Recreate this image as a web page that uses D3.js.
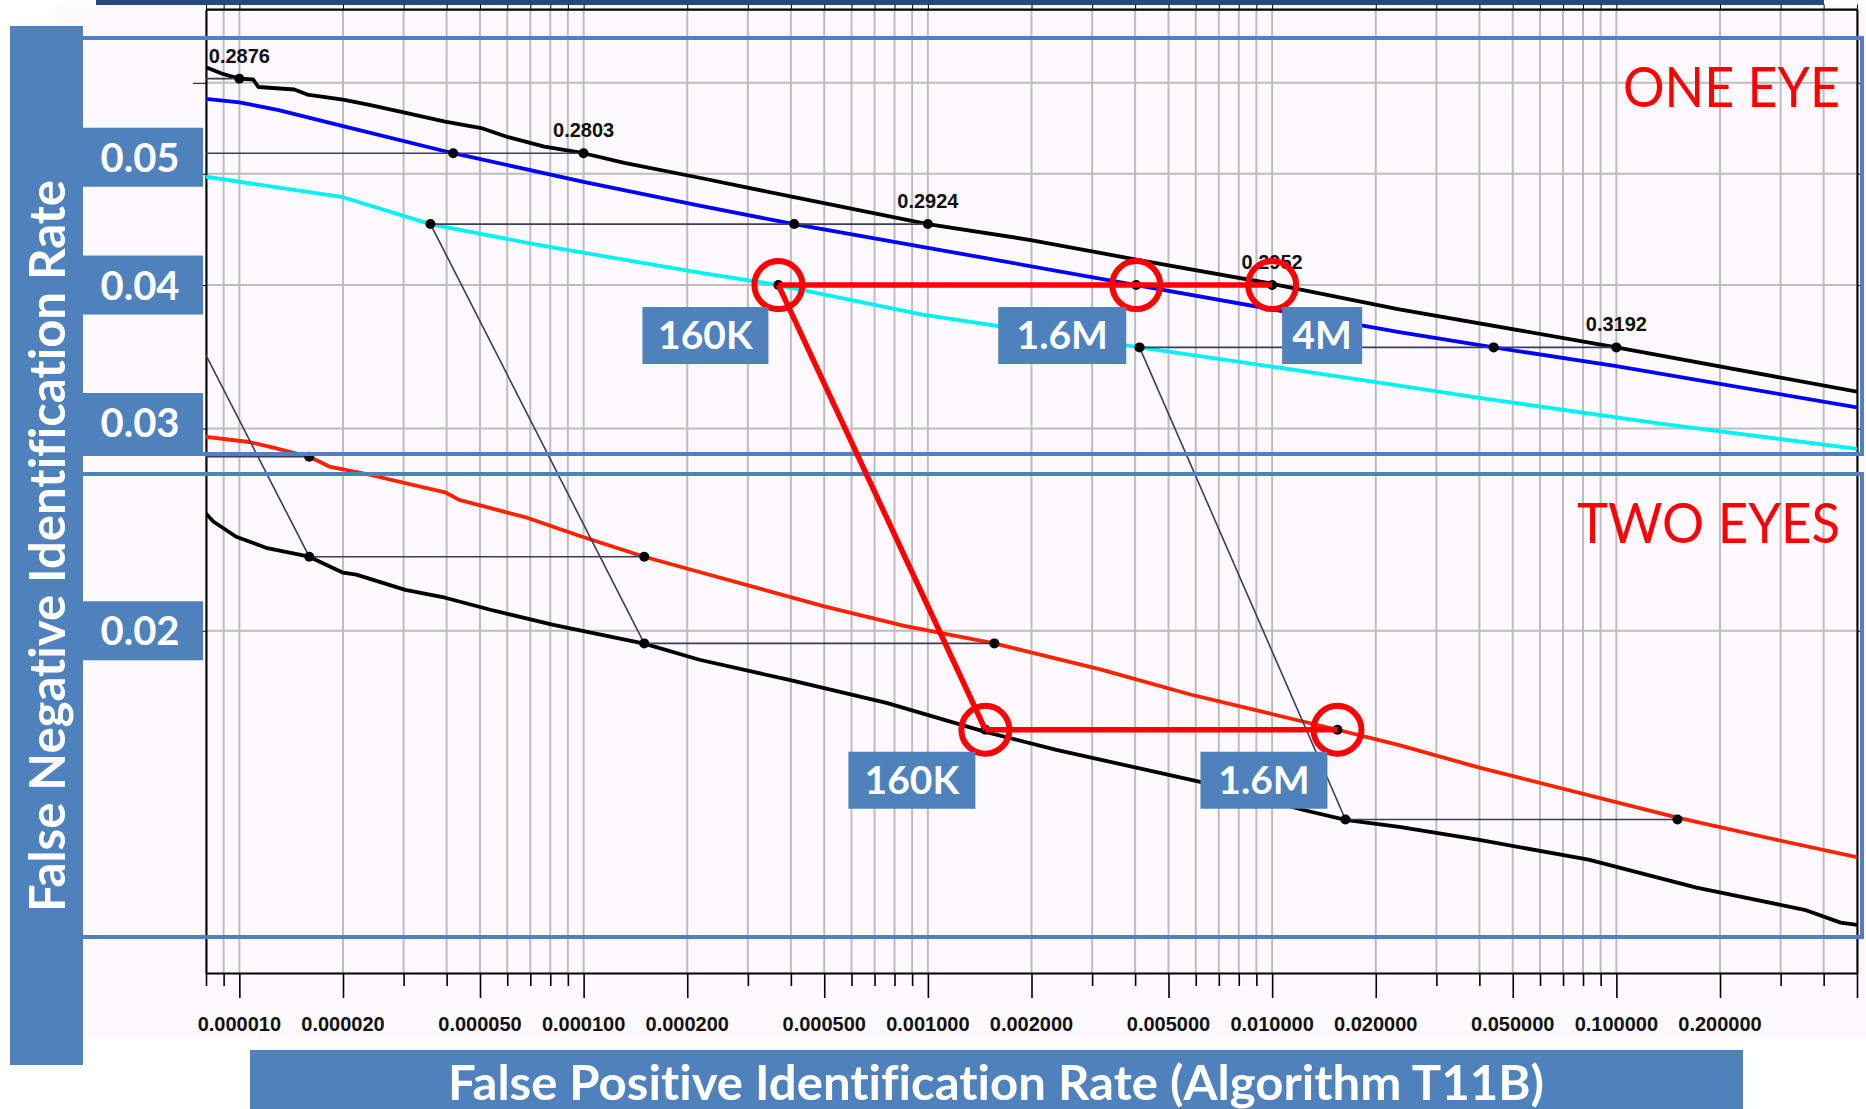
<!DOCTYPE html>
<html>
<head>
<meta charset="utf-8">
<script src="https://cdn.jsdelivr.net/npm/d3@7"></script>
<style>
  body { margin: 0; background: #fff; }
  svg { display: block; }
  text { font-variant-ligatures: none; }
</style>
</head>
<body>
<svg width="1866" height="1109"></svg>
<script>
// ---- values ----
var xDomain = [8e-6, 0.5];          // FPIR (log)
var yDomain = [0.01007, 0.0695];    // FNIR (log)

var xTickLabels = [0.00001, 0.00002, 0.00005, 0.0001, 0.0002, 0.0005, 0.001, 0.002, 0.005, 0.01, 0.02, 0.05, 0.1, 0.2];
var yGrid = [0.02, 0.03, 0.04, 0.05, 0.06];
var yTickLabels = [0.05, 0.04, 0.03, 0.02];

// one eye, black
var oneBlackX = [8e-6, 8.92e-6, 1e-5, 1.097e-5, 1.135e-5, 1.444e-5, 1.575e-5, 2e-5, 2.385e-5, 2.954e-5, 3.96e-5, 5.04e-5, 6.04e-5, 7.69e-5, 1e-4, 1.313e-4, 2.17e-4, 4.09e-4, 1e-3, 1.97e-3, 4.03e-3, 1e-2, 2.34e-2, 0.1, 0.5];
var oneBlackY = [0.0619, 0.0611, 0.0605, 0.0604, 0.0595, 0.0592, 0.0586, 0.0580, 0.0574, 0.0566, 0.0555, 0.0548, 0.0538, 0.0528, 0.0521, 0.0511, 0.0496, 0.0477, 0.0452, 0.0438, 0.0421, 0.0401, 0.0381, 0.0353, 0.0323];
// one eye, blue
var oneBlueX = [8e-6, 1e-5, 1.3e-5, 2e-5, 4.18e-5, 1e-4, 2.17e-4, 4.09e-4, 1e-3, 4.03e-3, 1e-2, 2.34e-2, 4.40e-2, 0.1, 0.5];
var oneBlueY = [0.0581, 0.0577, 0.0568, 0.0550, 0.0521, 0.0492, 0.0469, 0.0452, 0.0431, 0.0400, 0.0381, 0.0364, 0.0353, 0.0340, 0.0313];
// one eye, cyan
var oneCyanX = [8e-6, 2e-5, 3.59e-5, 7.24e-5, 2.17e-4, 3.68e-4, 9.64e-4, 4.12e-3, 1.20e-2, 2.34e-2, 4.0e-2, 0.134, 0.5];
var oneCyanY = [0.0497, 0.0477, 0.0452, 0.0434, 0.0410, 0.0400, 0.0377, 0.0353, 0.0337, 0.0327, 0.0319, 0.0303, 0.0288];
// two eyes, red
var twoRedX = [8e-6, 1.068e-5, 1.238e-5, 1.596e-5, 1.825e-5, 2.32e-5, 3.96e-5, 4.35e-5, 6.82e-5, 9.71e-5, 1.50e-4, 2.17e-4, 5.00e-4, 8.54e-4, 1.56e-3, 3.19e-3, 5.79e-3, 1.548e-2, 2.34e-2, 4.0e-2, 0.1505, 0.2766, 0.5];
var twoRedY = [0.0295, 0.0292, 0.0289, 0.02835, 0.0278, 0.0274, 0.0264, 0.0260, 0.0251, 0.0242, 0.0232, 0.0225, 0.0210, 0.0202, 0.0195, 0.0185, 0.0176, 0.0164, 0.0159, 0.0152, 0.01375, 0.0132, 0.0127];
// two eyes, black
var twoBlackX = [8e-6, 8.40e-6, 9.79e-6, 1.205e-5, 1.596e-5, 2e-5, 2.186e-5, 3.034e-5, 3.96e-5, 5.36e-5, 8.17e-5, 1.50e-4, 2.17e-4, 3.93e-4, 7.58e-4, 1.469e-3, 2.362e-3, 4.03e-3, 6.32e-3, 1.225e-2, 1.633e-2, 2.34e-2, 4.0e-2, 8.30e-2, 0.1709, 0.352, 0.448, 0.5];
var twoBlackY = [0.0253, 0.0249, 0.02415, 0.0236, 0.0232, 0.02247, 0.02238, 0.02171, 0.02137, 0.02086, 0.02024, 0.01949, 0.01887, 0.01813, 0.01731, 0.01633, 0.01575, 0.01520, 0.01475, 0.01397, 0.01369, 0.01350, 0.01315, 0.01264, 0.01195, 0.01143, 0.01114, 0.01109];

// threshold chains (same threshold across the five curves)
var chainLabels   = ["0.2876", "0.2803", "0.2924", "0.2952", "0.3192"];
var chainTopFnir  = [0.0605, 0.0521, 0.0452, 0.0400, 0.0353];
var chainBlack    = [1e-5, 1e-4, 1e-3, 1e-2, 0.1];
var chainBlue     = [3e-6, 4.18e-5, 4.09e-4, 4.03e-3, 0.0440];
var chainCyan     = [2e-7, 4.0e-6, 3.59e-5, 3.68e-4, 4.12e-3];
var chainBotFnir  = [0.02835, 0.0232, 0.0195, 0.0164, 0.0137];
var chainBotBlack = [4e-6, 1.596e-5, 1.50e-4, 1.469e-3, 1.633e-2];
var chainRed      = [1.596e-5, 1.50e-4, 1.56e-3, 1.548e-2, 0.1505];

var highlightChain = 3;
var annTopLabels = ["160K", "1.6M", "4M"];
var annBottomLabels = ["160K", "1.6M"];
var panelTitles = ["ONE EYE", "TWO EYES"];
var xTitle = "False Positive Identification Rate (Algorithm T11B)";
var yTitle = "False Negative Identification Rate";

// ---- layout ----
var plot = {left: 206, right: 1857, top: 9.5, bottom: 973};
var slideBlue = "#4F81BD";
var slideFont = "Lato, 'Open Sans', sans-serif";
var chartFont = "'Liberation Sans', Arial, sans-serif";

var svg = d3.select("svg");

var x = d3.scaleLog().domain(xDomain).range([plot.left, plot.right]);
var y = d3.scaleLog().domain(yDomain).range([plot.bottom, plot.top]);

function isMajor(v) {
    var lead = Math.round(v / Math.pow(10, Math.floor(Math.log10(v) + 1e-9)));
    return lead == 1 || lead == 2 || lead == 5;
}

// background of the pasted chart image + top bar
svg.append("rect").attr("width", 1866).attr("height", 1109).attr("fill", "#fff");
svg.append("rect").attr("x", 56).attr("y", 5).attr("width", 1810).attr("height", 1033).attr("fill", "#FEF9FE");
svg.append("rect").attr("x", 96).attr("y", 0).attr("width", 1728).attr("height", 5).attr("fill", "#24497B");

// grid
var xGridVals = x.ticks();
var grid = svg.append("g").attr("stroke", "#BDBDBD").attr("stroke-width", 2);
grid.selectAll("line.v")
    .data(xGridVals)
    .enter().append("line")
    .attr("x1", function(d) { return x(d); })
    .attr("x2", function(d) { return x(d); })
    .attr("y1", plot.top)
    .attr("y2", plot.bottom);
grid.selectAll("line.h")
    .data(yGrid)
    .enter().append("line")
    .attr("x1", plot.left)
    .attr("x2", plot.right)
    .attr("y1", function(d) { return y(d); })
    .attr("y2", function(d) { return y(d); });

// axes
var bottomAxis = svg.append("g")
    .attr("transform", "translate(0," + plot.bottom + ")")
    .call(d3.axisBottom(x).tickValues(xGridVals).tickSize(13).tickSizeOuter(0).tickFormat(""));
bottomAxis.selectAll(".tick line")
    .attr("y2", function(d) { return isMajor(d) ? 25 : 13; })
    .attr("stroke-width", 1.6);
bottomAxis.select(".domain").attr("stroke-width", 2);

svg.append("g")
    .attr("transform", "translate(0," + plot.top + ")")
    .call(d3.axisTop(x).tickValues(xGridVals).tickSize(5).tickSizeOuter(0).tickFormat(""));

svg.append("g")
    .attr("transform", "translate(" + plot.left + ",0)")
    .call(d3.axisLeft(y).tickValues(yGrid).tickSize(13).tickSizeOuter(0).tickFormat(""))
    .select(".domain").attr("stroke-width", 2);

svg.append("g")
    .attr("transform", "translate(" + plot.right + ",0)")
    .call(d3.axisRight(y).tickValues(yGrid).tickSize(5).tickSizeOuter(0).tickFormat(""))
    .select(".domain").attr("stroke-width", 2);

svg.append("line")
    .attr("x1", plot.left).attr("x2", plot.right)
    .attr("y1", plot.top).attr("y2", plot.top)
    .attr("stroke", "#000").attr("stroke-width", 2);

// tick labels
var fmt = d3.format(".6f");
svg.append("g")
    .selectAll("text")
    .data(xTickLabels)
    .enter().append("text")
    .attr("x", function(d) { return x(d); })
    .attr("y", plot.bottom + 58)
    .attr("text-anchor", "middle")
    .attr("font-family", chartFont)
    .attr("font-weight", "bold")
    .attr("font-size", 20)
    .attr("fill", "#111")
    .text(function(d) { return fmt(d); });

// curves
svg.append("clipPath").attr("id", "clip")
    .append("rect")
    .attr("x", plot.left).attr("y", plot.top)
    .attr("width", plot.right - plot.left).attr("height", plot.bottom - plot.top);

var series = [
    {xs: oneCyanX, ys: oneCyanY, color: "#00F2F2"},
    {xs: oneBlueX, ys: oneBlueY, color: "#0000FF"},
    {xs: oneBlackX, ys: oneBlackY, color: "#000000"},
    {xs: twoRedX, ys: twoRedY, color: "#FF2200"},
    {xs: twoBlackX, ys: twoBlackY, color: "#000000"}
];

var line = d3.line()
    .x(function(d) { return x(d[0]); })
    .y(function(d) { return y(d[1]); });

var curves = svg.append("g").attr("clip-path", "url(#clip)");
curves.selectAll("path")
    .data(series)
    .enter().append("path")
    .attr("d", function(s) { return line(d3.zip(s.xs, s.ys)); })
    .attr("fill", "none")
    .attr("stroke", function(s) { return s.color; })
    .attr("stroke-width", 3.8)
    .attr("stroke-linejoin", "round");

// threshold connectors and dots
var chains = chainLabels.map(function(label, i) {
    return {
        label: label, top: chainTopFnir[i], bot: chainBotFnir[i],
        black: chainBlack[i], blue: chainBlue[i], cyan: chainCyan[i],
        botBlack: chainBotBlack[i], red: chainRed[i]
    };
});

var links = svg.append("g").attr("clip-path", "url(#clip)")
    .attr("stroke", "#3C3C5C").attr("stroke-width", 1.6).attr("fill", "none");

chains.forEach(function(c) {
    links.append("line")
        .attr("x1", x(c.cyan)).attr("y1", y(c.top))
        .attr("x2", x(c.black)).attr("y2", y(c.top));
    links.append("line")
        .attr("x1", x(c.cyan)).attr("y1", y(c.top))
        .attr("x2", x(c.botBlack)).attr("y2", y(c.bot));
    links.append("line")
        .attr("x1", x(c.botBlack)).attr("y1", y(c.bot))
        .attr("x2", x(c.red)).attr("y2", y(c.bot));

    [[c.black, c.top], [c.blue, c.top], [c.cyan, c.top], [c.botBlack, c.bot], [c.red, c.bot]]
        .forEach(function(p) {
            links.append("circle")
                .attr("cx", x(p[0])).attr("cy", y(p[1]))
                .attr("r", 5)
                .attr("fill", "#000").attr("stroke", "none");
        });
});

svg.append("g")
    .selectAll("text")
    .data(chains)
    .enter().append("text")
    .attr("x", function(c) { return x(c.black); })
    .attr("y", function(c) { return y(c.top) - 16; })
    .attr("text-anchor", "middle")
    .attr("font-family", chartFont)
    .attr("font-weight", "bold")
    .attr("font-size", 20)
    .attr("fill", "#111")
    .text(function(c) { return c.label; });

// panel outlines
var panels = [{top: 38, bottom: 454}, {top: 474, bottom: 937}];
svg.append("g")
    .selectAll("rect")
    .data(panels)
    .enter().append("rect")
    .attr("x", 70)
    .attr("y", function(p) { return p.top; })
    .attr("width", 1792)
    .attr("height", function(p) { return p.bottom - p.top; })
    .attr("fill", "none")
    .attr("stroke", slideBlue)
    .attr("stroke-width", 4);

svg.append("g")
    .selectAll("text")
    .data(panelTitles)
    .enter().append("text")
    .attr("x", 1840)
    .attr("y", function(d, i) { return [107, 543][i]; })
    .attr("text-anchor", "end")
    .attr("font-family", slideFont)
    .attr("font-size", 56)
    .attr("fill", "#FF0000")
    .attr("textLength", function(d, i) { return [217, 263][i]; })
    .attr("lengthAdjust", "spacingAndGlyphs")
    .text(function(d) { return d; });

// y title bar and y tick boxes
svg.append("rect").attr("x", 10).attr("y", 26).attr("width", 73).attr("height", 1039).attr("fill", slideBlue);
svg.append("text")
    .attr("transform", "translate(65,546) rotate(-90)")
    .attr("text-anchor", "middle")
    .attr("font-family", slideFont)
    .attr("font-weight", "bold")
    .attr("font-size", 50)
    .attr("fill", "#fff")
    .attr("textLength", 732)
    .attr("lengthAdjust", "spacingAndGlyphs")
    .text(yTitle);

var yBoxNudge = {0.05: -16.5, 0.04: 0, 0.03: -6, 0.02: 0};
var yBoxes = svg.append("g")
    .selectAll("g")
    .data(yTickLabels)
    .enter().append("g")
    .attr("transform", function(d) { return "translate(83," + (y(d) + yBoxNudge[d] - 29.5) + ")"; });
yBoxes.append("rect").attr("width", 120).attr("height", 59).attr("fill", slideBlue);
yBoxes.append("text")
    .attr("x", 57).attr("y", 44)
    .attr("text-anchor", "middle")
    .attr("font-family", slideFont)
    .attr("font-weight", "bold")
    .attr("font-size", 40)
    .attr("fill", "#fff")
    .text(function(d) { return d.toFixed(2); });

// x title bar
svg.append("rect").attr("x", 250).attr("y", 1050).attr("width", 1493).attr("height", 59).attr("fill", slideBlue);
svg.append("text")
    .attr("x", 996).attr("y", 1100)
    .attr("text-anchor", "middle")
    .attr("font-family", slideFont)
    .attr("font-weight", "bold")
    .attr("font-size", 48)
    .attr("fill", "#fff")
    .attr("textLength", 1096)
    .attr("lengthAdjust", "spacingAndGlyphs")
    .text(xTitle);

// red annotation for the highlighted threshold
var h = chains[highlightChain];
var topPts = [h.cyan, h.blue, h.black].map(function(v) { return [x(v), y(h.top)]; });
var botPts = [h.botBlack, h.red].map(function(v) { return [x(v), y(h.bot)]; });

var ann = svg.append("g").attr("stroke", "#FF0000").attr("fill", "none").attr("stroke-width", 5.5);
ann.append("line").attr("x1", topPts[0][0]).attr("y1", topPts[0][1]).attr("x2", topPts[2][0]).attr("y2", topPts[2][1]);
ann.append("line").attr("x1", topPts[0][0]).attr("y1", topPts[0][1]).attr("x2", botPts[0][0]).attr("y2", botPts[0][1]);
ann.append("line").attr("x1", botPts[0][0]).attr("y1", botPts[0][1]).attr("x2", botPts[1][0]).attr("y2", botPts[1][1]);
ann.selectAll("circle")
    .data(topPts.concat(botPts))
    .enter().append("circle")
    .attr("cx", function(p) { return p[0]; })
    .attr("cy", function(p) { return p[1]; })
    .attr("r", 24)
    .attr("stroke-width", 6);

// blue tags under the circles
var tagBoxes = [
    {pt: topPts[0], label: annTopLabels[0], w: 126, side: "left"},
    {pt: topPts[1], label: annTopLabels[1], w: 128, side: "left"},
    {pt: topPts[2], label: annTopLabels[2], w: 80, side: "right"},
    {pt: botPts[0], label: annBottomLabels[0], w: 127, side: "left"},
    {pt: botPts[1], label: annBottomLabels[1], w: 127, side: "left"}
];
var tags = svg.append("g")
    .selectAll("g")
    .data(tagBoxes)
    .enter().append("g")
    .attr("transform", function(t) {
        var bx = t.side == "left" ? t.pt[0] - 10 - t.w : t.pt[0] + 10;
        return "translate(" + bx + "," + (t.pt[1] + 22) + ")";
    });
tags.append("rect")
    .attr("width", function(t) { return t.w; })
    .attr("height", 57)
    .attr("fill", slideBlue);
tags.append("text")
    .attr("x", function(t) { return t.w / 2; })
    .attr("y", 42)
    .attr("text-anchor", "middle")
    .attr("font-family", slideFont)
    .attr("font-weight", "bold")
    .attr("font-size", 39)
    .attr("fill", "#fff")
    .text(function(t) { return t.label; });
</script>
</body>
</html>
